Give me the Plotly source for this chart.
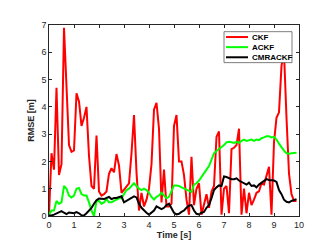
import plotly.graph_objects as go

time_s = [0.0, 0.1, 0.2, 0.3, 0.4, 0.5, 0.6, 0.7, 0.8, 0.9,
          1.0, 1.1, 1.2, 1.3, 1.4, 1.5, 1.6, 1.7, 1.8, 1.9,
          2.0, 2.1, 2.2, 2.3, 2.4, 2.5, 2.6, 2.7, 2.8, 2.9,
          3.0, 3.1, 3.2, 3.3, 3.4, 3.5, 3.6, 3.7, 3.8, 3.9,
          4.0, 4.1, 4.2, 4.3, 4.4, 4.5, 4.6, 4.7, 4.8, 4.9,
          5.0, 5.1, 5.2, 5.3, 5.4, 5.5, 5.6, 5.7, 5.8, 5.9,
          6.0, 6.1, 6.2, 6.3, 6.4, 6.5, 6.6, 6.7, 6.8, 6.9,
          7.0, 7.1, 7.2, 7.3, 7.4, 7.5, 7.6, 7.7, 7.8, 7.9,
          8.0, 8.1, 8.2, 8.3, 8.4, 8.5, 8.6, 8.7, 8.8, 8.9,
          9.0, 9.1, 9.2, 9.3, 9.4, 9.5, 9.6, 9.7, 9.8, 9.9]

ckf = [0.05, 2.3, 1.7, 4.7, 1.5, 1.9, 6.9, 4.5, 2.6, 2.35,
       2.4, 4.5, 4.2, 3.3, 3.6, 4.0, 2.2, 1.1, 1.0, 2.95,
       0.9, 0.75, 0.8, 0.9, 1.55, 1.75, 1.6, 2.27, 1.85, 0.85,
       0.97, 1.1, 1.2, 2.3, 3.7, 1.6, 0.2, 0.85, 0.35, 0.6,
       1.0, 1.9, 3.9, 4.15, 3.2, 0.5, 1.7, 0.35, 0.35, 0.45,
       3.3, 3.7, 2.0, 2.0, 1.5, 0.6, 0.05, 2.17, 0.4, 1.0,
       1.2, 0.05, 0.4, 0.8, 0.3, 0.9, 1.1, 2.9, 3.1, 0.05,
       1.0, 1.1, 0.1, 2.45, 2.5, 2.6, 3.2, 0.05, 1.0, 0.1,
       0.85, 0.4, 0.6, 0.85, 0.9, 1.2, 1.15, 1.5, 1.8, 0.05,
       2.7, 3.6, 3.8, 5.5, 6.0, 3.6, 1.55, 0.8, 0.55, 0.55]

ackf = [0.05, 0.2, 0.2, 0.55, 0.45, 0.5, 1.1, 1.0, 0.75, 0.68,
        0.75, 1.0, 1.03, 0.8, 0.75, 0.75, 0.5, 0.2, 0.0, 0.55,
        0.55, 0.45, 0.5, 0.62, 0.5, 0.5, 0.55, 0.6, 0.65, 0.65,
        0.8, 0.95, 1.0, 1.1, 1.2, 1.1, 1.0, 0.95, 1.0, 0.95,
        0.85, 0.7, 0.6, 0.7, 0.75, 0.85, 0.75, 0.65, 0.7, 0.9,
        1.12, 1.12, 1.1, 1.05, 1.0, 0.95, 0.9, 0.88, 1.15, 1.2,
        1.3, 1.42, 1.55, 1.7, 1.83, 2.05, 2.3, 2.38, 2.45, 2.55,
        2.6, 2.7, 2.72, 2.7, 2.68, 2.72, 2.68, 2.75, 2.8, 2.75,
        2.77, 2.8, 2.75, 2.8, 2.78, 2.85, 2.88, 2.92, 2.92, 2.88,
        2.9, 2.8, 2.65, 2.5, 2.4, 2.3, 2.28, 2.3, 2.32, 2.32]

cmrackf = [0.02, 0.02, 0.05, 0.1, 0.15, 0.18, 0.12, 0.07, 0.13, 0.12,
           0.1, 0.14, 0.1, 0.03, 0.02, 0.1, 0.2, 0.3, 0.45, 0.58,
           0.64, 0.62, 0.62, 0.66, 0.7, 0.62, 0.66, 0.66, 0.7, 0.72,
           0.5, 0.55, 0.6, 0.66, 0.72, 0.68, 0.45, 0.3, 0.2, 0.12,
           0.05, 0.12, 0.2, 0.35, 0.3, 0.25, 0.3, 0.4, 0.45, 0.3,
           0.12, 0.06, 0.08, 0.15, 0.2, 0.3, 0.38, 0.4, 0.2, 0.08,
           0.06, 0.12, 0.15, 0.3, 0.4, 0.65, 0.95, 1.05, 1.12, 1.1,
           1.45, 1.43, 1.38, 1.35, 1.35, 1.38, 1.3, 1.25, 1.2, 1.15,
           1.22, 1.1, 1.12, 1.05, 1.15, 1.22, 1.3, 1.35, 1.32, 1.3,
           1.3, 1.25, 0.95, 0.8, 0.6, 0.52, 0.5, 0.55, 0.6, 0.62]

series_names = ["CKF", "ACKF", "CMRACKF"]
series_colors = ["#ff0000", "#00ff00", "#000000"]
x_ticks = [0, 1, 2, 3, 4, 5, 6, 7, 8, 9, 10]
y_ticks = [0, 1, 2, 3, 4, 5, 6, 7]

FONT = "Liberation Sans, Arial, sans-serif"

fig = go.Figure()
for name, vals, col in zip(series_names, [ckf, ackf, cmrackf], series_colors):
    fig.add_trace(go.Scatter(x=time_s, y=vals, mode="lines", name=name,
                             line=dict(color=col, width=2), showlegend=False))

axis_common = dict(showline=True, linecolor="#262626", linewidth=0.6, mirror="ticks",
                   ticks="inside", ticklen=3, tickcolor="#262626", tickwidth=0.6,
                   showgrid=False, zeroline=False,
                   tickfont=dict(family=FONT, size=9, color="#262626"))

# manual legend (MATLAB-like compact box)
leg_x0, leg_x1, leg_y0, leg_y1 = 0.70, 0.972, 0.803, 0.965
row_y = [0.937, 0.884, 0.831]
shapes = [dict(type="rect", xref="paper", yref="paper", x0=leg_x0, x1=leg_x1,
               y0=leg_y0, y1=leg_y1, line=dict(color="#262626", width=0.6),
               fillcolor="white", layer="above")]
annotations = []
for name, col, ry in zip(series_names, series_colors, row_y):
    shapes.append(dict(type="line", xref="paper", yref="paper", x0=0.708, x1=0.796,
                       y0=ry, y1=ry, line=dict(color=col, width=2), layer="above"))
    annotations.append(dict(xref="paper", yref="paper", x=0.804, y=ry, text="<b>" + name + "</b>",
                            showarrow=False, xanchor="left", yanchor="middle",
                            font=dict(family=FONT, size=8, color="#000000")))

fig.update_layout(
    width=321, height=241,
    margin=dict(l=41, r=30, t=17, b=26),
    paper_bgcolor="white", plot_bgcolor="white",
    font=dict(family=FONT, size=9, color="#262626"),
    xaxis=dict(range=[0, 10], tickvals=x_ticks,
               title=dict(text="<b>Time [s]</b>", standoff=1,
                          font=dict(family=FONT, size=9, color="#262626")), **axis_common),
    yaxis=dict(range=[0, 7], tickvals=y_ticks,
               title=dict(text="<b>RMSE [m]</b>", standoff=5,
                          font=dict(family=FONT, size=9, color="#262626")), **axis_common),
    shapes=shapes,
    annotations=annotations,
    showlegend=False,
)

fig.write_html("out.html")
